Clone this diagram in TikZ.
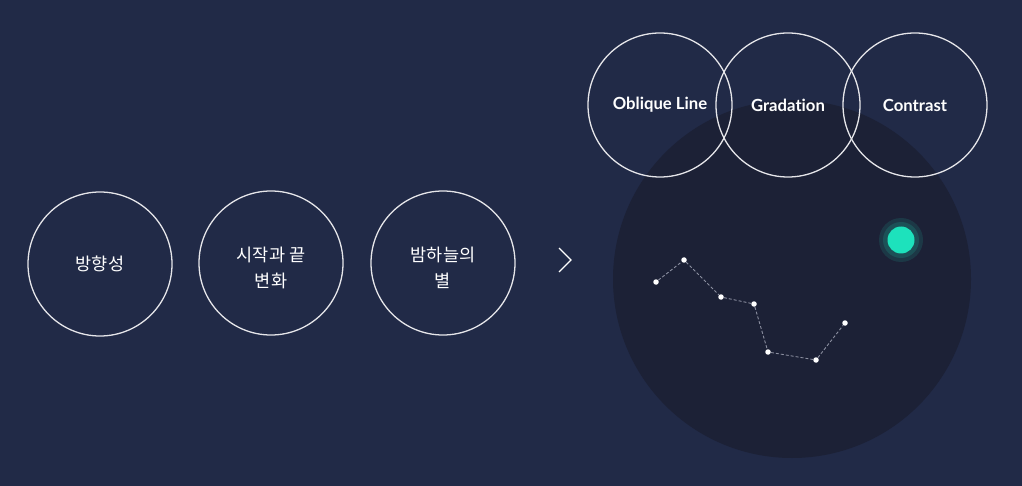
\documentclass[tikz,border=0pt]{standalone}
\usepackage{fontspec}
\setmainfont{Lato}
\newfontfamily\kr{Noto Sans CJK KR}
\newfontfamily\latob[RawFeature={-liga,-dlig}]{Lato Bold}
\definecolor{bg}{HTML}{212A47}
\definecolor{dark}{HTML}{1C2136}
\definecolor{ring}{HTML}{E6E6EA}
\definecolor{teal}{HTML}{1DE2BC}
\definecolor{dashc}{HTML}{8B8FA0}
\tikzset{
  ringc/.style={circle, draw=ring, line width=1.3pt, minimum size=144pt, inner sep=0pt, text=white, align=center},
  krlab/.style={font=\kr\fontsize{17.5}{26}\selectfont},
  enlab/.style={font=\latob\fontsize{16.7}{20}\selectfont},
  star/.style={circle, fill=white, minimum size=5.5pt, inner sep=0pt},
  link/.style={draw=dashc, dashed, dash pattern=on 3pt off 2pt, line width=0.9pt}
}
\begin{document}
\begin{tikzpicture}[x=1pt,y=-1pt]
\fill[bg] (0,0) rectangle (1022,486);
\useasboundingbox (0,0) rectangle (1022,486);
\fill[dark] (792,279) circle (179);
% left circles
\node[ringc, krlab] (a) at (100,264) {방향성};
\node[ringc, krlab] (b) at (271,263) {};
\node[krlab, text=white, align=center] (bt) at (271,268) {시작과 끝\\변화};
\node[ringc, krlab] (c) at (443,263) {};
\node[krlab, text=white, align=center] (ct) at (443,268) {밤하늘의\\별};
% chevron
\coordinate (ch1) at (559,248);
\coordinate (ch2) at (571,260);
\coordinate (ch3) at (559,272);
\draw[white, line width=1.2pt] (ch1) -- (ch2) -- (ch3);
% top circles
\node[ringc, enlab] (o) at (660,105) {Oblique Line};
\node[ringc, enlab] (g) at (788,105) {Gradat\kern0pt ion};
\node[ringc, enlab] (t) at (915,105) {Contrast};
% constellation
\node[star] (s1) at (656,282) {};
\node[star] (s2) at (684,260) {};
\node[star] (s3) at (721,297) {};
\node[star] (s4) at (754,304) {};
\node[star] (s5) at (768,352) {};
\node[star] (s6) at (816,360) {};
\node[star] (s7) at (845,323) {};
\draw[link] (s1) -- (s2) -- (s3) -- (s4) -- (s5) -- (s6) -- (s7);
% green dot
\fill[teal, opacity=0.12] (901,240) circle (22);
\fill[teal, opacity=0.15] (901,240) circle (18);
\node[circle, fill=teal, minimum size=27pt, inner sep=0pt] (gd) at (901,240) {};
\end{tikzpicture}
\end{document}
